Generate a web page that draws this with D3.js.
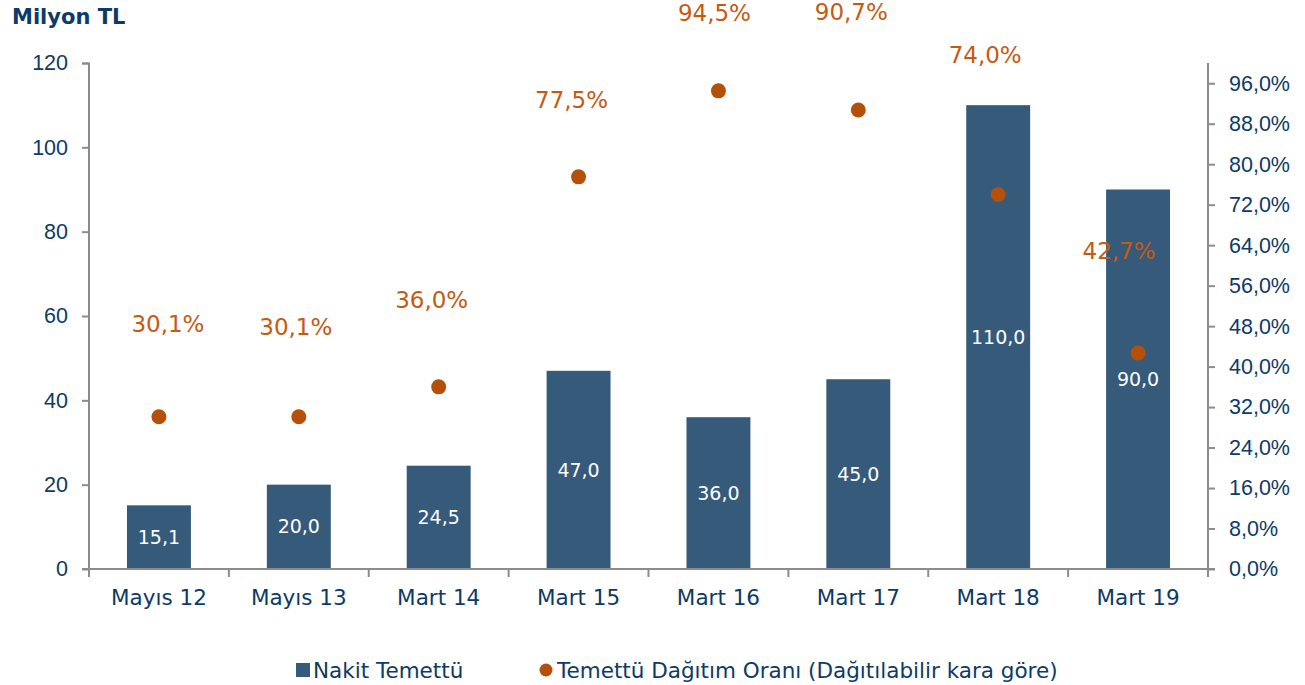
<!DOCTYPE html>
<html>
<head>
<meta charset="utf-8">
<script src="https://cdn.jsdelivr.net/npm/d3@7"></script>
<style>
  body { margin: 0; background: #fff; }
  svg { font-family: "DejaVu Sans", Verdana, sans-serif; }
  .axis path, .axis line { stroke: #8c8c8c; stroke-width: 2; }
  .axis text { fill: #0d3a66; font-size: 21.5px; }
</style>
</head>
<body>
<svg width="1305" height="685"></svg>
<script>
var categories = ["Mayıs 12", "Mayıs 13", "Mart 14", "Mart 15", "Mart 16", "Mart 17", "Mart 18", "Mart 19"];
var cashDividend = [15.1, 20.0, 24.5, 47.0, 36.0, 45.0, 110.0, 90.0];
var payoutRatio = [30.1, 30.1, 36.0, 77.5, 94.5, 90.7, 74.0, 42.7];
var leftTicks = [0, 20, 40, 60, 80, 100, 120];
var rightTicks = [0, 8, 16, 24, 32, 40, 48, 56, 64, 72, 80, 88, 96];
// hand-placed label nudges from the original, [dx, dy] in px
var ratioLabelNudge = [[9, -93], [-3, -90], [-7, -87], [-7, -77], [-4, -78], [-7, -98], [-13, -140], [-19, -102]];

var svg = d3.select("svg"),
    margin = {top: 63, right: 97, bottom: 116, left: 89},
    width = 1305 - margin.left - margin.right,
    height = 685 - margin.top - margin.bottom;

var fmt = function(v, d) { return v.toFixed(d).replace(".", ","); };

var x = d3.scaleBand().domain(categories).range([0, width]).paddingInner(0.543).paddingOuter(0.2715);
var xCat = d3.scaleBand().domain(categories).range([0, width]);
var y = d3.scaleLinear().domain([0, 120]).range([height, 0]);
var y2 = d3.scaleLinear().domain([0, 100]).range([height, 0]);

svg.append("text")
    .attr("x", 12).attr("y", 24)
    .attr("font-size", 21).attr("font-weight", "bold")
    .attr("fill", "#0d3a66")
    .text("Milyon TL");

var chart = svg.append("g").attr("transform", "translate(" + margin.left + "," + margin.top + ")");

// bars
chart.selectAll("rect.bar").data(cashDividend).enter().append("rect")
    .attr("class", "bar")
    .attr("x", function(d, i) { return x(categories[i]); })
    .attr("y", function(d) { return y(d); })
    .attr("width", x.bandwidth())
    .attr("height", function(d) { return height - y(d); })
    .attr("fill", "#355a7a");

chart.selectAll("text.barlabel").data(cashDividend).enter().append("text")
    .attr("class", "barlabel")
    .attr("x", function(d, i) { return x(categories[i]) + x.bandwidth() / 2; })
    .attr("y", function(d) { return (y(d) + height) / 2; })
    .attr("dy", "0.35em")
    .attr("text-anchor", "middle")
    .attr("font-size", 19)
    .attr("fill", "#fff")
    .text(function(d) { return fmt(d, 1); });

// axes
chart.append("g").attr("class", "axis")
    .call(d3.axisLeft(y).tickValues(leftTicks).tickSize(7).tickPadding(14))
    .call(function(g) { g.select(".domain").attr("d", "M-7,0.5H0V" + height); });

chart.append("g").attr("class", "axis")
    .attr("transform", "translate(" + width + ",0)")
    .call(d3.axisRight(y2).tickValues(rightTicks).tickSize(7).tickPadding(14)
        .tickFormat(function(d) { return fmt(d, 1) + "%"; }))
    .call(function(g) { g.select(".domain").attr("d", "M0,0V" + height); });

var xAxis = chart.append("g").attr("class", "axis")
    .attr("transform", "translate(0," + height + ")");
xAxis.append("line").attr("x1", -7).attr("x2", width + 7).attr("y1", 0).attr("y2", 0);
xAxis.selectAll("line.tick").data(categories.concat(["end"])).enter().append("line")
    .attr("class", "tick")
    .attr("x1", function(d, i) { return i * xCat.step(); })
    .attr("x2", function(d, i) { return i * xCat.step(); })
    .attr("y1", 0).attr("y2", 8);
xAxis.selectAll("text").data(categories).enter().append("text")
    .attr("x", function(d) { return xCat(d) + xCat.bandwidth() / 2; })
    .attr("y", 36)
    .attr("text-anchor", "middle")
    .text(function(d) { return d; });

// payout dots
chart.selectAll("circle.dot").data(payoutRatio).enter().append("circle")
    .attr("class", "dot")
    .attr("cx", function(d, i) { return xCat(categories[i]) + xCat.bandwidth() / 2; })
    .attr("cy", function(d) { return y2(d); })
    .attr("r", 7.5)
    .attr("fill", "#b5500b");

chart.selectAll("text.ratiolabel").data(payoutRatio).enter().append("text")
    .attr("class", "ratiolabel")
    .attr("x", function(d, i) { return xCat(categories[i]) + xCat.bandwidth() / 2 + ratioLabelNudge[i][0]; })
    .attr("y", function(d, i) { return y2(d) + ratioLabelNudge[i][1]; })
    .attr("dy", "0.35em")
    .attr("text-anchor", "middle")
    .attr("font-size", 23)
    .attr("fill", "#c55a11")
    .text(function(d) { return fmt(d, 1) + "%"; });

// legend
var legend = svg.append("g").attr("transform", "translate(0,670)");
legend.append("rect").attr("x", 296).attr("y", -7).attr("width", 14).attr("height", 14).attr("fill", "#355a7a");
legend.append("text").attr("x", 313).attr("y", 0).attr("dy", "0.35em")
    .attr("font-size", 21.5).attr("fill", "#0d3a66").text("Nakit Temettü");
legend.append("circle").attr("cx", 546).attr("cy", 0).attr("r", 6.5).attr("fill", "#b5500b");
legend.append("text").attr("x", 557).attr("y", 0).attr("dy", "0.35em")
    .attr("font-size", 21.5).attr("fill", "#0d3a66").text("Temettü Dağıtım Oranı (Dağıtılabilir kara göre)");
</script>
</body>
</html>
